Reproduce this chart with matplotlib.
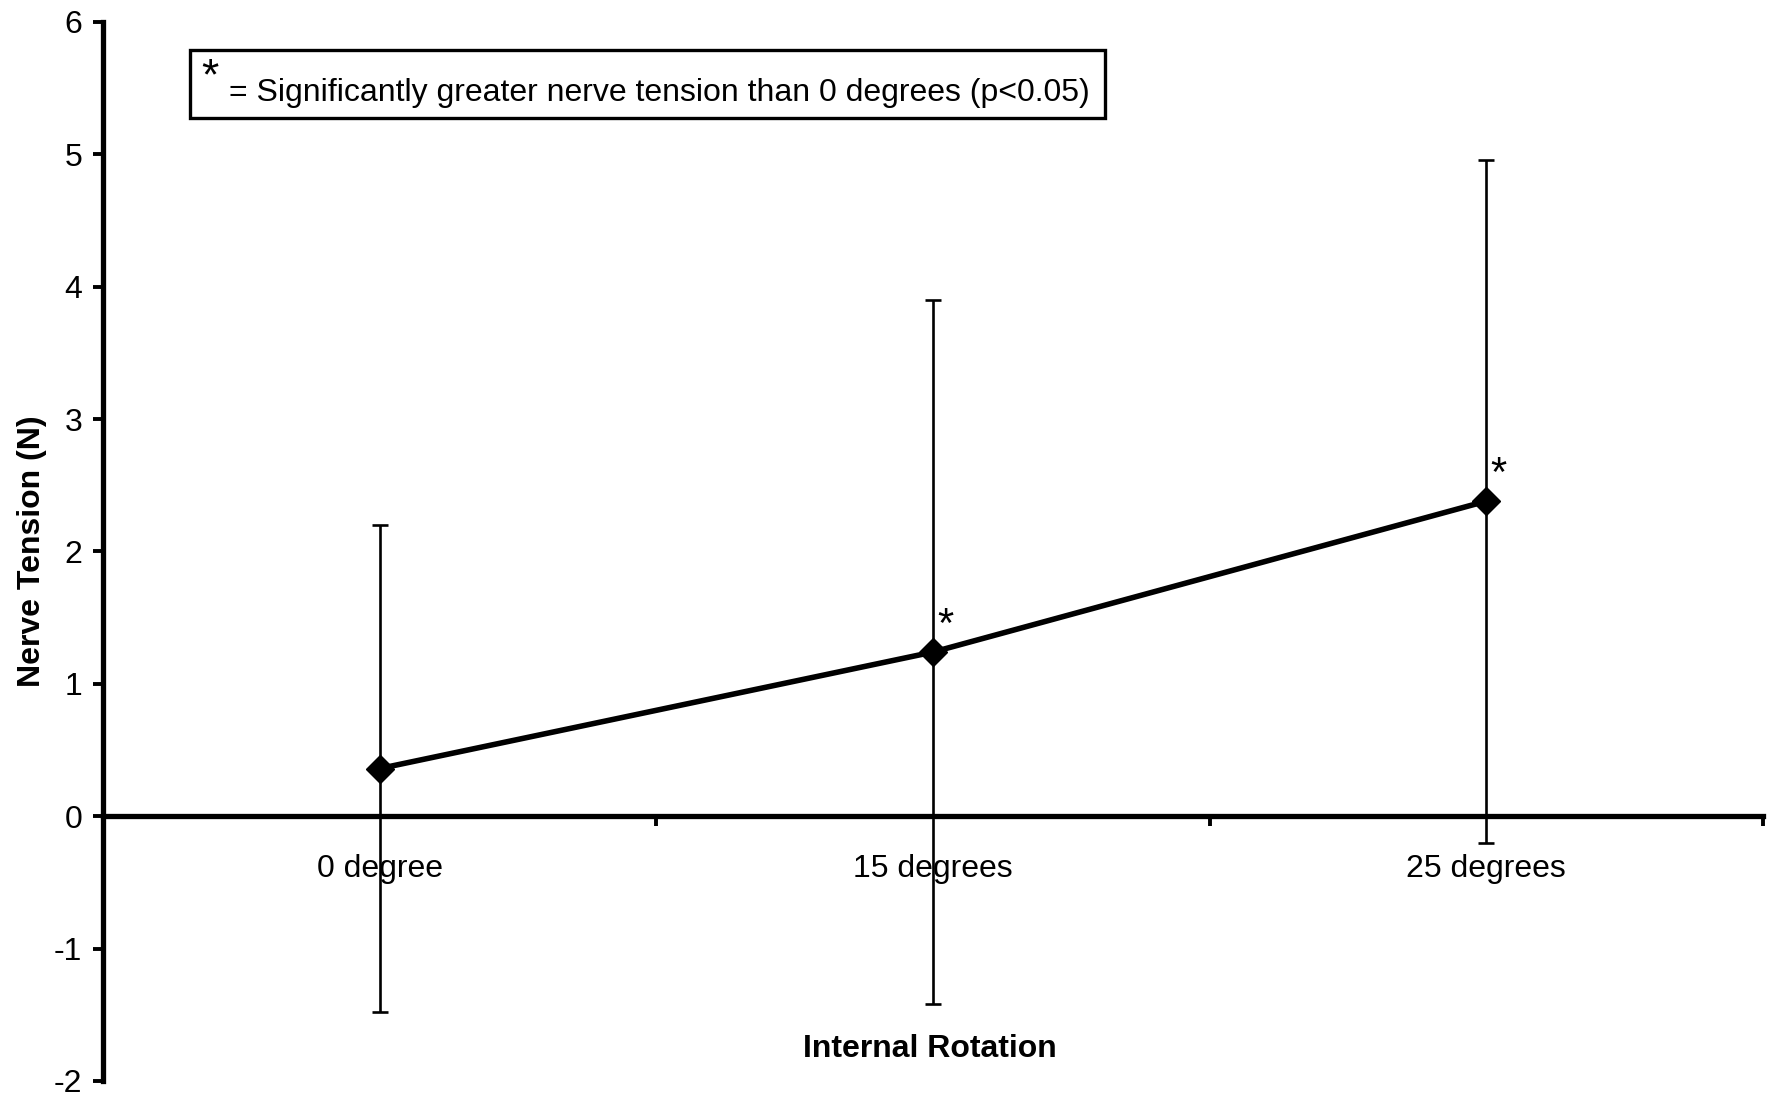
import matplotlib
matplotlib.use('Agg')
import matplotlib.pyplot as plt
from matplotlib.patches import Rectangle

plt.rcParams['font.family'] = ['Liberation Sans', 'DejaVu Sans']
plt.rcParams['axes.unicode_minus'] = False

# datos
categorias = ['0 degree', '15 degrees', '25 degrees']
tension_media = [0.36, 1.24, 2.38]
tension_sd = [1.84, 2.66, 2.58]
significativo = [False, True, True]
y_ticks = [-2, -1, 0, 1, 2, 3, 4, 5, 6]

fig = plt.figure(figsize=(17.72, 10.97), dpi=100)
ax = fig.add_axes([0.0581, 0.0146, 0.9368, 0.9654])

x = list(range(len(categorias)))

# linea con barras de error
ax.errorbar(x, tension_media, yerr=tension_sd, color='black', linewidth=4,
            marker='D', markersize=14, ecolor='black', elinewidth=1.9,
            capsize=6, capthick=1.9, zorder=3)

# asteriscos de significancia
for xi, yi, sig in zip(x, tension_media, significativo):
    if sig:
        ax.annotate('*', (xi, yi), xytext=(9, 11), textcoords='offset points',
                    ha='center', va='baseline', fontsize=30)

ax.set_xlim(-0.5, 2.5)
ax.set_ylim(-2, 6)
ax.set_yticks(y_ticks)
ax.set_yticklabels([str(v) for v in y_ticks])

ax.set_xticks(x)
ax.set_xticklabels(categorias)
ax.set_xticks([0.5, 1.5, 2.5], minor=True)

ax.spines['top'].set_visible(False)
ax.spines['right'].set_visible(False)
ax.spines['bottom'].set_position(('data', 0))
ax.spines['bottom'].set_linewidth(3.8)
ax.spines['left'].set_linewidth(3.8)

ax.tick_params(axis='x', which='major', length=0, pad=27, labelsize=23)
ax.tick_params(axis='x', which='minor', direction='out', length=7, width=2.8)
ax.tick_params(axis='y', direction='out', length=7, width=2.8, pad=8, labelsize=23)

ax.set_ylabel('Nerve Tension (N)', fontsize=23, fontweight='bold')
ax.yaxis.set_label_coords(-0.034, 0.5)
ax.text(0.498, 0.03, 'Internal Rotation', transform=ax.transAxes,
        ha='center', va='center', fontsize=23, fontweight='bold')

# cuadro de leyenda
fig.patches.append(Rectangle((0.1072, 0.8924), 0.5164, 0.062, transform=fig.transFigure,
                             fill=False, edgecolor='black', linewidth=2.4))
fig.text(0.1185, 0.929, '*', fontsize=32, ha='center', va='center')
fig.text(0.1292, 0.915, '= Significantly greater nerve tension than 0 degrees (p<0.05)',
         fontsize=23, ha='left', va='center')

fig.savefig('out.png', dpi=100)
